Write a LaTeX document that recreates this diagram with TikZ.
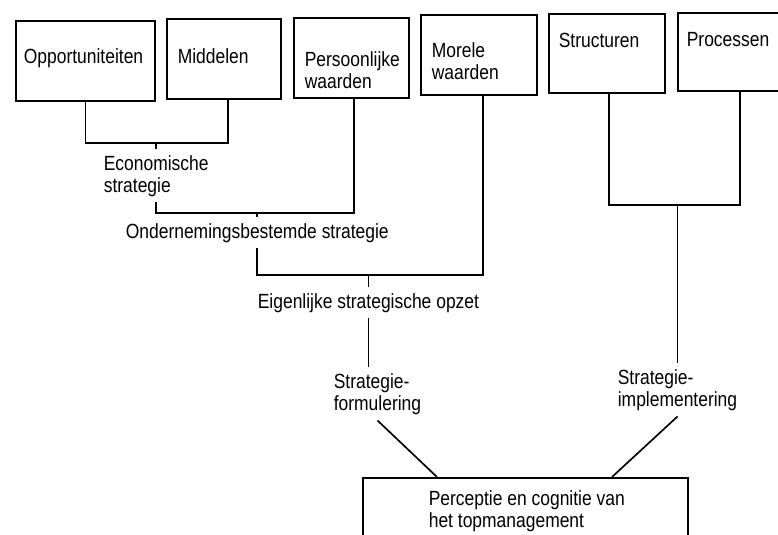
\documentclass[tikz,border=0pt]{standalone}
\usepackage{fontspec}
\setmainfont{Liberation Sans}[FakeStretch=0.85]
\begin{document}
\begin{tikzpicture}[x=0.75pt,y=-0.75pt,line width=1.25pt,
  box/.style={draw, inner sep=0pt, anchor=north west},
  lbl/.style={inner xsep=0pt, inner ysep=4pt, align=left, anchor=north west,
    font=\fontsize{15.4}{16.5}\selectfont}]
\clip (0,0) rectangle (778,535);
% boxes
\node[box, minimum width=104.25pt, minimum height=60pt] (opp) at (15,20) {};
\node[box, minimum width=85.5pt, minimum height=60pt] (mid) at (166,18) {};
\node[box, minimum width=86.25pt, minimum height=60pt] (per) at (293,17) {};
\node[box, minimum width=87pt, minimum height=60pt] (mor) at (420,14) {};
\node[box, minimum width=87pt, minimum height=59.25pt] (str) at (548,13) {};
\node[box, minimum width=93pt, minimum height=58.5pt] (pro) at (677,12) {};
\node[box, minimum width=243.75pt, minimum height=60pt] (bot) at (362,477) {};
% box texts
\node[lbl] (topp) at (23,42) {Opportuniteiten};
\node[lbl] (tmid) at (177,42) {Middelen};
\node[lbl] (tper) at (304,45) {Persoonlijke\\waarden};
\node[lbl] (tmor) at (431,36) {Morele\\waarden};
\node[lbl] (tstr) at (558,27) {Structuren};
\node[lbl] (tpro) at (686,26) {Processen};
\node[lbl] (tbot) at (428,484) {Perceptie en cognitie van\\het topmanagement};
% labels
\node[lbl] (eco) at (103,149) {Economische\\strategie};
\node[lbl] (ond) at (125,217) {Ondernemingsbestemde strategie};
\node[lbl] (eig) at (257,287) {Eigenlijke strategische opzet};
\node[lbl] (form) at (333,367) {Strategie-\\formulering};
\node[lbl] (impl) at (617,363) {Strategie-\\implementering};
\coordinate (b1) at (437,477);
\coordinate (b2) at (612,477);
% connectors
\draw (opp.south) |- (eco.north |- 0,143) -| ([xshift=3pt]mid.south);
\draw (eco.north |- 0,143) -- (eco.north);
\draw (eco.south) |- (ond.north |- 0,213) -| ([xshift=1.9pt]per.south);
\draw (ond.north |- 0,213) -- (ond.north);
\draw (ond.south) |- (eig.north |- 0,275) -| ([xshift=3pt]mor.south);
\draw (eig.north |- 0,275) -- (eig.north);
\draw (eig.south) -- (eig.south |- form.north);
\draw (form.south) -- (b1);
\draw ([xshift=1.5pt]str.south) |- (impl.north |- 0,205) -| (pro.south);
\draw (impl.north |- 0,205) -- (impl.north);
\draw (impl.south) -- (b2);
\end{tikzpicture}
\end{document}
